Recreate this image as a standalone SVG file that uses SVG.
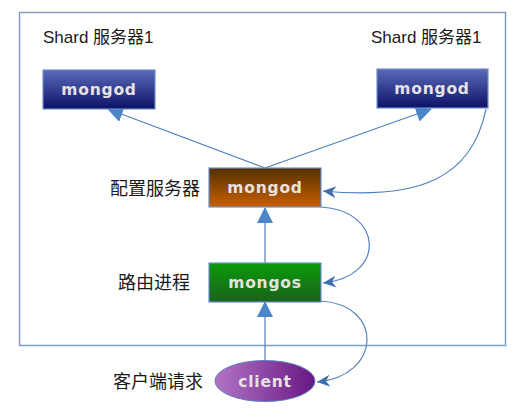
<svg xmlns="http://www.w3.org/2000/svg" width="532" height="408" viewBox="0 0 532 408">
<style>
.lbl{font-family:"Liberation Sans","Noto Sans CJK SC",sans-serif;font-size:17px;fill:#1a1a1a}
.cjk{font-family:"Liberation Sans","Noto Sans CJK SC",sans-serif;font-size:18px;fill:#1a1a1a}
.box{stroke:#6d8fc9;stroke-width:1.2}
.bt{font-family:"DejaVu Sans",Verdana,sans-serif;font-weight:bold;font-size:15.5px;fill:#e6e2e0;text-anchor:middle;letter-spacing:0.8px}
.ln{fill:none;stroke:#4f81bd;stroke-width:1.2}
</style>
<defs>
<linearGradient id="gBlue" x1="0" y1="0" x2="0" y2="1"><stop offset="0" stop-color="#5b6bb8"/><stop offset="1" stop-color="#0c1168"/></linearGradient>
<linearGradient id="gBrown" x1="0" y1="0" x2="0" y2="1"><stop offset="0" stop-color="#553000"/><stop offset="1" stop-color="#c86000"/></linearGradient>
<linearGradient id="gGreen" x1="0" y1="0" x2="0" y2="1"><stop offset="0" stop-color="#0a9a0a"/><stop offset="1" stop-color="#1c621c"/></linearGradient>
<linearGradient id="gPurple" x1="0" y1="0" x2="1" y2="0"><stop offset="0" stop-color="#b274c4"/><stop offset="1" stop-color="#681884"/></linearGradient>
<marker id="tri" viewBox="0 0 16 16" refX="15" refY="8" markerWidth="16" markerHeight="16" markerUnits="userSpaceOnUse" orient="auto">
<path d="M0,0 L16,8 L0,16 Z" fill="#4a86c8"/>
</marker>
<marker id="stealth" viewBox="0 0 14 14" refX="13" refY="7" markerWidth="14" markerHeight="14" markerUnits="userSpaceOnUse" orient="auto">
<path d="M0,1 L13,7 L0,13 L4,7 Z" fill="#3d6fb0"/>
</marker>
</defs>
<rect x="19.5" y="12.5" width="486" height="333" fill="#fff" stroke="#7f9cc6" stroke-width="1.5"/>
<text class="lbl" x="43" y="43">Shard 服务器1</text>
<text class="lbl" x="371" y="43">Shard 服务器1</text>
<text class="cjk" x="110" y="195">配置服务器</text>
<text class="cjk" x="118" y="289">路由进程</text>
<text class="cjk" x="113" y="388">客户端请求</text>
<g id="connectors">
<line class="ln" x1="265" y1="168" x2="108" y2="109" marker-end="url(#tri)"/>
<line class="ln" x1="265" y1="168" x2="431" y2="109" marker-end="url(#tri)"/>
<line class="ln" x1="265" y1="263" x2="265" y2="208" marker-end="url(#tri)"/>
<line class="ln" x1="265" y1="361" x2="265" y2="302" marker-end="url(#tri)"/>
<path class="ln" d="M486,109 C472,178 420,200 323,191" marker-end="url(#stealth)"/>
<path class="ln" d="M321,207 C382,210 388,276 323,283" marker-end="url(#stealth)"/>
<path class="ln" d="M321,301 C384,305 382,376 317,382" marker-end="url(#stealth)"/>
</g>
<g id="shard1"><rect class="box" x="43" y="70" width="112" height="39" fill="url(#gBlue)"/><text class="bt" x="99" y="95">mongod</text></g>
<g id="shard2"><rect class="box" x="377" y="69" width="111" height="39" fill="url(#gBlue)"/><text class="bt" x="432" y="94">mongod</text></g>
<g id="config"><rect class="box" x="209" y="168" width="112" height="39" fill="url(#gBrown)"/><text class="bt" x="265" y="193">mongod</text></g>
<g id="mongos"><rect class="box" x="209" y="263" width="112" height="39" fill="url(#gGreen)"/><text class="bt" x="265" y="288">mongos</text></g>
<g id="client"><ellipse cx="265" cy="381" rx="50" ry="20.5" fill="url(#gPurple)" stroke="#5a7fc0" stroke-width="1"/><text class="bt" x="265" y="387">client</text></g>
</svg>
